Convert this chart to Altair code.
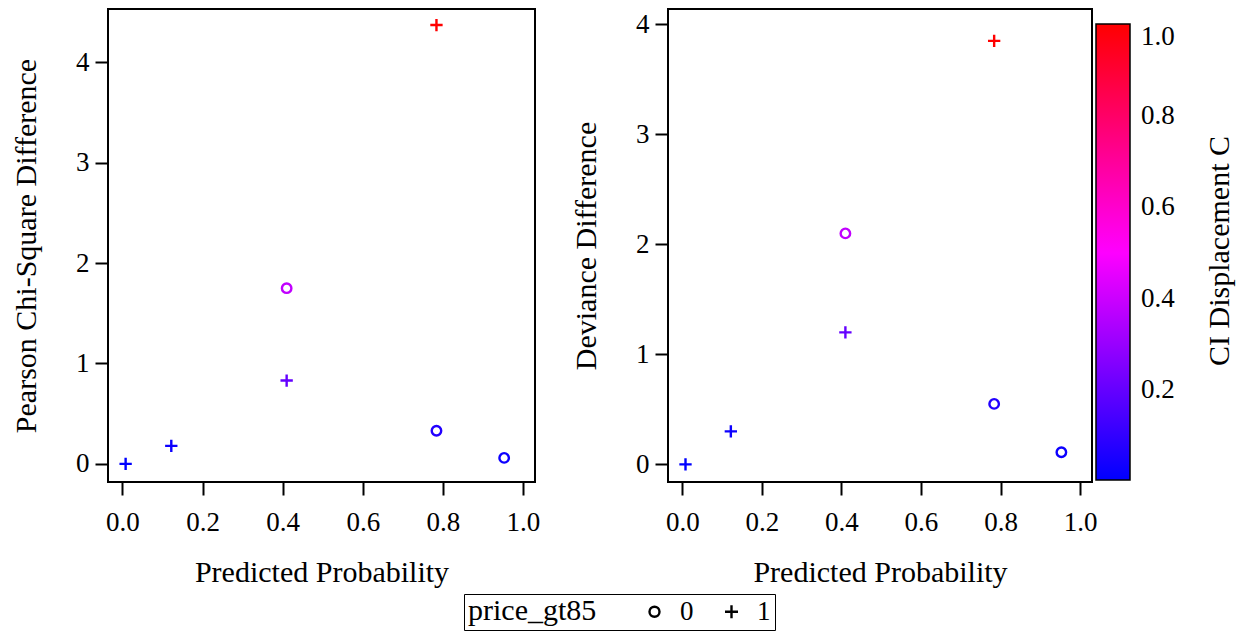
import altair as alt
import pandas as pd

pred_prob = [0.008, 0.122, 0.41, 0.41, 0.784, 0.784, 0.953]
chisq_diff = [0.0, 0.18, 0.83, 1.75, 4.37, 0.33, 0.06]
dev_diff = [0.0, 0.30, 1.20, 2.10, 3.85, 0.55, 0.11]
ci_c = [0.004, 0.03, 0.20, 0.38, 1.0, 0.07, 0.03]
price_gt85 = ["1", "1", "1", "0", "1", "0", "0"]
color_title = ["CI Displacement C"]

df = pd.DataFrame({
    "pred": pred_prob,
    "chisq": chisq_diff,
    "dev": dev_diff,
    "C": ci_c,
    "price_gt85": price_gt85,
})

FONT = "Liberation Serif"
PLUS = "M-1.3,0H1.3M0,-1.3V1.3"
TITLE_SIZE = 30
LABEL_SIZE = 27

color_enc = alt.Color(
    "C:Q",
    scale=alt.Scale(domain=[0.004, 1.0], range=["#0000ff", "#ff00ff", "#ff0000"], interpolate="rgb", nice=False, zero=False),
    legend=alt.Legend(
        title=None, orient="none", legendX=988, legendY=15,
        gradientLength=456, gradientThickness=34, gradientStrokeColor="black", gradientStrokeWidth=1.5,
        values=[0.2, 0.4, 0.6, 0.8, 1.0], format=".1f", labelOffset=11,
    ),
)
shape_enc = alt.Shape(
    "price_gt85:N",
    scale=alt.Scale(domain=["0", "1"], range=["circle", PLUS]),
    legend=alt.Legend(
        title="price_gt85", orient="none", legendX=356, legendY=585, direction="horizontal",
        titleOrient="left", strokeColor="black", padding=4, symbolSize=100,
        symbolStrokeColor="black", symbolStrokeWidth=2.4, symbolFillColor="transparent",
        columnPadding=24, labelOffset=12, titlePadding=44,
    ),
)

xscale = alt.Scale(domain=[-0.036, 1.03], nice=False, zero=False)

def panel(field, title, ydom, w):
    return alt.Chart(df).mark_point(strokeWidth=2.4, size=90, filled=False, opacity=1).encode(
        x=alt.X("pred:Q", title="Predicted Probability", scale=xscale,
                axis=alt.Axis(values=[0, 0.2, 0.4, 0.6, 0.8, 1.0], format=".1f")),
        y=alt.Y(f"{field}:Q", title=title,
                scale=alt.Scale(domain=ydom, nice=False, zero=False),
                axis=alt.Axis(values=[0, 1, 2, 3, 4], format="d")),
        color=color_enc,
        shape=shape_enc,
    ).properties(width=w, height=473)

left = panel("chisq", "Pearson Chi-Square Difference", [-0.18, 4.53], 427)
right_pts = panel("dev", "Deviance Difference", [-0.16, 4.14], 424)
ctitle = alt.Chart(pd.DataFrame({"t": color_title})).mark_text(
    angle=270, font=FONT, fontSize=TITLE_SIZE, color="black", align="center", baseline="middle"
).encode(text="t:N", x=alt.value(552), y=alt.value(242))
right = alt.layer(right_pts, ctitle)

chart = alt.hconcat(left, right, spacing=29).resolve_scale(
    color="shared", shape="shared"
).resolve_legend(color="shared", shape="shared").properties(
    padding={"left": 10, "top": 8, "right": 0, "bottom": 0}
).configure_view(stroke="black", strokeWidth=2).configure_axis(
    labelFont=FONT, titleFont=FONT, labelFontSize=LABEL_SIZE, titleFontSize=TITLE_SIZE,
    titleFontWeight="normal", labelColor="black", titleColor="black",
    domain=False, grid=False, tickSize=13, tickWidth=2, tickColor="black",
    labelPadding=6,
).configure_axisX(titlePadding=22, labelPadding=14).configure_axisY(titlePadding=34).configure_legend(
    labelFont=FONT, titleFont=FONT, labelFontSize=LABEL_SIZE, titleFontSize=TITLE_SIZE,
    titleFontWeight="normal", labelColor="black", titleColor="black",
)

chart.save("out.html", embed_options={"renderer": "svg", "actions": False})
